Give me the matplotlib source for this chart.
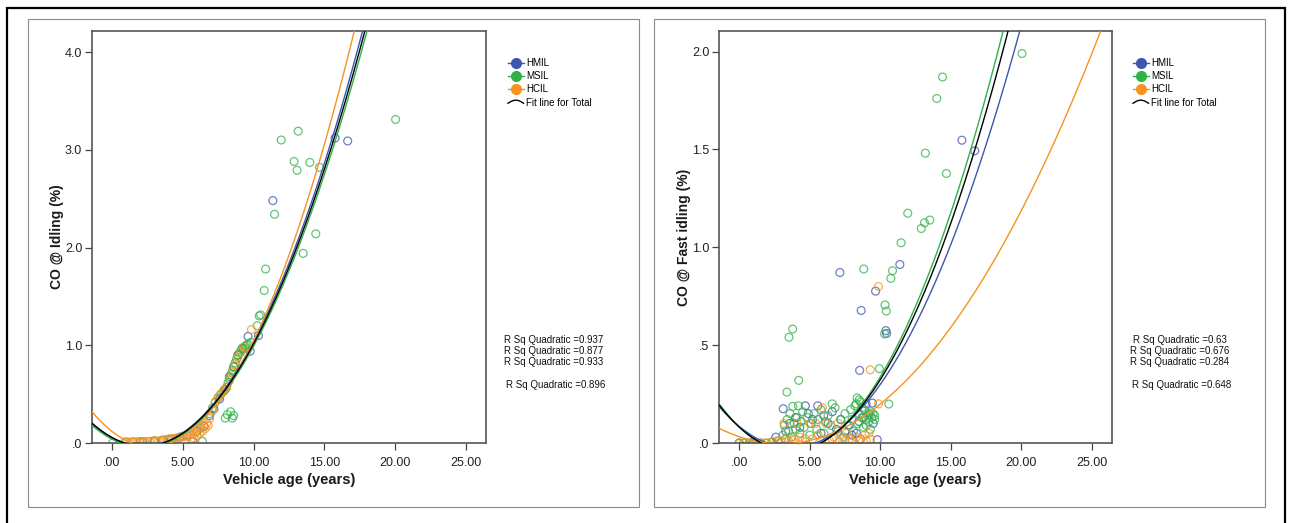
import numpy as np
import matplotlib
matplotlib.use("Agg")
import matplotlib.pyplot as plt
from matplotlib.lines import Line2D
from matplotlib.legend_handler import HandlerBase
from matplotlib.patches import Rectangle

# ---------------------------------------------------------------- data
groups = ["HMIL", "MSIL", "HCIL"]
colors = {"HMIL": "#3d56ae", "MSIL": "#2fb347", "HCIL": "#f7931e"}

# CO @ Idling (%) vs vehicle age (years): (age, CO) pairs
idle_hmil = np.array([
    (1.5, 0.01), (2.2, 0.01), (3.0, 0.02), (3.6, 0.03), (4.2, 0.04), (4.8, 0.06),
    (5.3, 0.08), (5.72, 0.017), (6.0, 0.12), (6.5, 0.17), (6.9, 0.28), (7.2, 0.35),
    (7.6, 0.45), (8.0, 0.55), (8.3, 0.68), (8.6, 0.78), (8.9, 0.9), (9.2, 0.97),
    (9.61, 1.09), (9.76, 0.94), (10.35, 1.10), (11.36, 2.48), (15.75, 3.12), (16.64, 3.09),
])
idle_msil = np.array([
    (0.05, 0.0), (1.0, 0.01), (2.0, 0.015), (3.0, 0.02), (4.0, 0.04), (5.0, 0.07),
    (6.2, 0.15), (6.9, 0.3), (7.1, 0.36), (7.3, 0.42), (7.5, 0.46), (7.7, 0.5),
    (7.9, 0.53), (8.1, 0.57), (8.2, 0.62), (8.3, 0.66), (8.4, 0.7), (8.5, 0.74),
    (8.6, 0.78), (8.7, 0.82), (8.8, 0.86), (8.9, 0.9), (9.0, 0.92), (9.1, 0.94),
    (9.2, 0.96), (9.3, 0.97), (9.4, 0.99), (9.5, 1.0), (9.6, 1.01), (9.8, 1.03),
    (8.0, 0.255), (8.38, 0.32), (8.5, 0.255), (8.15, 0.29), (8.59, 0.28), (6.39, 0.017),
    (10.26, 1.2), (10.4, 1.3), (10.5, 1.31), (10.75, 1.56), (10.85, 1.78), (11.48, 2.34),
    (13.5, 1.94), (14.39, 2.14), (11.95, 3.10), (13.15, 3.19), (12.86, 2.88), (13.07, 2.79),
    (13.97, 2.87), (14.65, 2.82), (20.02, 3.31),
])
idle_hcil = np.array([
    (0.9, 0.01), (1.1, 0.01), (1.3, 0.01), (1.5, 0.01), (1.7, 0.012), (1.9, 0.012),
    (2.1, 0.015), (2.3, 0.015), (2.5, 0.015), (2.7, 0.018), (2.9, 0.02), (3.1, 0.02),
    (3.3, 0.022), (3.5, 0.025), (3.7, 0.03), (3.9, 0.035), (4.1, 0.04), (4.3, 0.045),
    (4.5, 0.05), (4.7, 0.055), (4.9, 0.06), (5.1, 0.065), (5.3, 0.07), (5.5, 0.08),
    (5.7, 0.09), (5.9, 0.11), (6.1, 0.13), (6.3, 0.16), (6.5, 0.18), (6.7, 0.2),
    (6.9, 0.25), (7.1, 0.33), (7.3, 0.42), (7.5, 0.47), (7.7, 0.5), (7.9, 0.54),
    (8.1, 0.57), (8.3, 0.64), (8.5, 0.72), (8.7, 0.8), (8.9, 0.88), (9.1, 0.93),
    (9.3, 0.98), (9.85, 1.16), (5.6, 0.04), (5.8, 0.05), (6.0, 0.07), (6.2, 0.1),
    (6.4, 0.12), (6.6, 0.15), (6.8, 0.18),
])

# CO @ Fast idling (%) vs vehicle age (years)
fast_hmil = np.array([
    (0.0, 0.0), (1.0, 0.005), (2.6, 0.03), (3.12, 0.175), (3.3, 0.06), (3.6, 0.1),
    (4.0, 0.13), (4.3, 0.08), (4.69, 0.19), (4.9, 0.15), (5.2, 0.12), (5.57, 0.19),
    (5.8, 0.05), (6.0, 0.14), (6.3, 0.1), (6.6, 0.16), (6.9, 0.07), (7.2, 0.12),
    (7.5, 0.06), (7.8, 0.09), (8.0, 0.04), (8.3, 0.05), (8.5, 0.11), (8.8, 0.13),
    (9.0, 0.2), (9.2, 0.15), (9.44, 0.204), (9.79, 0.017), (8.6, 0.02), (9.5, 0.1),
    (7.14, 0.871), (9.67, 0.776), (8.65, 0.677), (10.4, 0.574), (10.45, 0.56),
    (8.54, 0.371), (11.39, 0.912), (15.79, 1.547), (16.70, 1.493),
])
fast_msil = np.array([
    (0.0, 0.0), (0.3, 0.0), (0.7, 0.0), (1.1, 0.0), (1.5, 0.0), (1.9, 0.0),
    (2.3, 0.005), (2.7, 0.01), (3.1, 0.04), (3.2, 0.09), (3.3, 0.02), (3.4, 0.12),
    (3.5, 0.06), (3.6, 0.15), (3.7, 0.03), (3.8, 0.187), (3.9, 0.1), (4.0, 0.07),
    (4.1, 0.13), (4.2, 0.19), (4.3, 0.05), (4.4, 0.11), (4.5, 0.16), (4.6, 0.08),
    (4.8, 0.13), (5.0, 0.04), (5.1, 0.1), (5.3, 0.15), (5.5, 0.07), (5.6, 0.12),
    (5.8, 0.17), (6.0, 0.05), (6.1, 0.11), (6.3, 0.14), (6.5, 0.09), (6.6, 0.2),
    (6.8, 0.18), (7.0, 0.06), (7.2, 0.12), (7.4, 0.03), (7.5, 0.15), (7.7, 0.09),
    (7.9, 0.17), (8.0, 0.12), (8.1, 0.06), (8.2, 0.19), (8.36, 0.23), (8.4, 0.1),
    (8.5, 0.15), (8.6, 0.21), (8.7, 0.13), (8.8, 0.08), (8.9, 0.17), (9.0, 0.12),
    (9.1, 0.14), (9.2, 0.11), (9.3, 0.16), (9.4, 0.13), (9.5, 0.15), (9.6, 0.12),
    (8.3, 0.2), (8.5, 0.22), (8.7, 0.18), (9.0, 0.09), (9.3, 0.07), (9.6, 0.14),
    (20.05, 1.99), (14.42, 1.87), (14.01, 1.76), (13.20, 1.481), (14.69, 1.377),
    (11.95, 1.174), (13.52, 1.139), (13.14, 1.125), (12.91, 1.096), (11.48, 1.023),
    (8.83, 0.889), (10.87, 0.88), (10.75, 0.841), (10.34, 0.705), (10.43, 0.674),
    (10.31, 0.557), (3.79, 0.582), (3.53, 0.54), (9.94, 0.38), (4.22, 0.32),
    (3.38, 0.26), (10.61, 0.199),
])
fast_hcil = np.array([
    (0.0, 0.0), (0.4, 0.0), (0.8, 0.0), (1.2, 0.0), (1.6, 0.0), (2.0, 0.0),
    (2.4, 0.005), (2.8, 0.01), (3.0, 0.01), (3.18, 0.1), (3.3, 0.02), (3.5, 0.01),
    (3.7, 0.015), (3.9, 0.02), (4.11, 0.1), (4.3, 0.03), (4.5, 0.01), (4.7, 0.02),
    (5.0, 0.1), (5.2, 0.02), (5.42, 0.1), (5.6, 0.04), (5.8, 0.01), (5.91, 0.18),
    (6.15, 0.1), (6.4, 0.01), (6.6, 0.02), (6.7, 0.03), (7.0, 0.1), (7.1, 0.01),
    (7.3, 0.02), (7.5, 0.01), (7.6, 0.05), (7.8, 0.02), (8.0, 0.01), (8.3, 0.03),
    (8.5, 0.01), (8.6, 0.02), (8.9, 0.04), (9.0, 0.01), (9.2, 0.05), (9.3, 0.02),
    (9.88, 0.2), (9.29, 0.374), (9.88, 0.80),
])

# quadratic fit coefficients (a, b, c) for y = a*x^2 + b*x + c
idle_fits = {"HMIL": (0.0178, -0.0800, 0.058), "MSIL": (0.0171, -0.0760, 0.040),
             "HCIL": (0.02067, -0.1142, 0.1196), "Total": (0.01745, -0.0786, 0.0558)}
fast_fits = {"HMIL": (0.008101, -0.05961, 0.0850), "MSIL": (0.009478, -0.06928, 0.0825),
             "HCIL": (0.004108, -0.02440, 0.0321), "Total": (0.009046, -0.0663, 0.0816)}

idle_r2 = ["R Sq Quadratic =0.937", "R Sq Quadratic =0.877",
           "R Sq Quadratic =0.933", "R Sq Quadratic =0.896"]
fast_r2 = ["R Sq Quadratic =0.63", "R Sq Quadratic =0.676",
           "R Sq Quadratic =0.284", "R Sq Quadratic =0.648"]

x_ticks = [0, 5, 10, 15, 20, 25]
x_ticklabels = [".00", "5.00", "10.00", "15.00", "20.00", "25.00"]
idle_yticks = [0, 1, 2, 3, 4]
idle_yticklabels = [".0", "1.0", "2.0", "3.0", "4.0"]
fast_yticks = [0, 0.5, 1.0, 1.5, 2.0]
fast_yticklabels = [".0", ".5", "1.0", "1.5", "2.0"]

# ---------------------------------------------------------------- layout
W, H = 1290, 523
fig = plt.figure(figsize=(W / 100, H / 100), dpi=100)
fig.patch.set_facecolor("white")

def fx(px):
    return px / W

def fy(py):
    return 1 - py / H

NARROW = ["Liberation Sans Narrow", "Liberation Sans", "DejaVu Sans"]
ARIAL = ["Liberation Sans", "DejaVu Sans"]

# outer frame and panel frames
fig.add_artist(Rectangle((fx(7), fy(540)), fx(1285) - fx(7), fy(8) - fy(540),
                         transform=fig.transFigure, fill=False, ec="black", lw=1.6))
for x0, x1 in [(28, 639), (654, 1265)]:
    fig.add_artist(Rectangle((fx(x0), fy(507)), fx(x1) - fx(x0), fy(19) - fy(507),
                             transform=fig.transFigure, fill=False, ec="#8a8a8a", lw=0.8))


class ArcHandler(HandlerBase):
    def create_artists(self, legend, orig_handle, xdescent, ydescent,
                       width, height, fontsize, trans):
        t = np.linspace(0, 1, 25)
        xs = -xdescent + width * t
        ys = -ydescent + height * (0.35 + 0.45 * np.sin(np.pi * t))
        ln = Line2D(xs, ys, color="black", lw=1.0, transform=trans)
        return [ln]


def panel(ax_rect, xlim, ylim, yticks, yticklabels, series, fits, ylabel,
          r2, leg_xy, r2_x, ylabel_x):
    ax = fig.add_axes(ax_rect)
    ax.set_xlim(*xlim)
    ax.set_ylim(*ylim)
    for g in groups:
        pts = series[g]
        ax.scatter(pts[:, 0], pts[:, 1], s=32, facecolors="none",
                   edgecolors=colors[g], linewidths=0.9, alpha=0.75, zorder=2,
                   clip_on=True)
    xs = np.linspace(xlim[0], xlim[1], 400)
    for g in groups:
        ax.plot(xs, np.polyval(fits[g], xs), color=colors[g], lw=1.0, zorder=3)
    ax.plot(xs, np.polyval(fits["Total"], xs), color="black", lw=1.0, zorder=4)

    ax.set_xticks(x_ticks)
    ax.set_xticklabels(x_ticklabels, family=NARROW, fontsize=9)
    ax.set_yticks(yticks)
    ax.set_yticklabels(yticklabels, family=NARROW, fontsize=9)
    ax.tick_params(direction="out", length=5, width=0.9, color="#444444",
                   labelcolor="#222222", pad=2)
    ax.tick_params(axis="x", pad=5)
    for sp in ax.spines.values():
        sp.set_color("#555555")
        sp.set_linewidth(1.2)

    l, b, w, h = ax_rect
    fig.text(l + w / 2, fy(480), "Vehicle age (years)", ha="center", va="center",
             family=NARROW, fontweight="bold", fontsize=10.5, color="#1a1a1a")
    fig.text(ylabel_x, b + h / 2, ylabel, ha="center", va="center", rotation=90,
             family=ARIAL, fontweight="bold", fontsize=10, color="#1a1a1a")

    handles = [Line2D([], [], color=colors[g], marker="o", markersize=7, lw=1.0)
               for g in groups]
    handles.append(Line2D([], [], color="black", lw=1.0))
    labels = groups + ["Fit line for Total"]
    ax.legend(handles, labels, loc="upper left", bbox_to_anchor=leg_xy,
              bbox_transform=fig.transFigure, frameon=False, borderpad=0,
              borderaxespad=0, handlelength=1.6, handletextpad=0.25,
              labelspacing=0.33, prop={"family": ARIAL, "size": 7},
              handler_map={handles[-1]: ArcHandler()})

    for (px, py), txt in zip(r2_x, r2):
        fig.text(fx(px), fy(py), txt, ha="left", va="center", family=ARIAL,
                 fontsize=7, color="#111111")
    return ax


panel([fx(92), fy(443), fx(486) - fx(92), fy(31) - fy(443)],
      (-1.4, 26.4), (0, 4.215), idle_yticks, idle_yticklabels,
      {"HMIL": idle_hmil, "MSIL": idle_msil, "HCIL": idle_hcil}, idle_fits,
      "CO @ Idling (%)", idle_r2, (fx(508), fy(58)),
      [(504, 340), (504, 351), (504, 362), (506, 385)], fx(57))

panel([fx(719), fy(443), fx(1112) - fx(719), fy(31) - fy(443)],
      (-1.43, 26.43), (0, 2.105), fast_yticks, fast_yticklabels,
      {"HMIL": fast_hmil, "MSIL": fast_msil, "HCIL": fast_hcil}, fast_fits,
      "CO @ Fast idling (%)", fast_r2, (fx(1133), fy(58)),
      [(1133, 340), (1130, 351), (1130, 362), (1132, 385)], fx(684))

fig.savefig("out.png", dpi=100, facecolor="white")
